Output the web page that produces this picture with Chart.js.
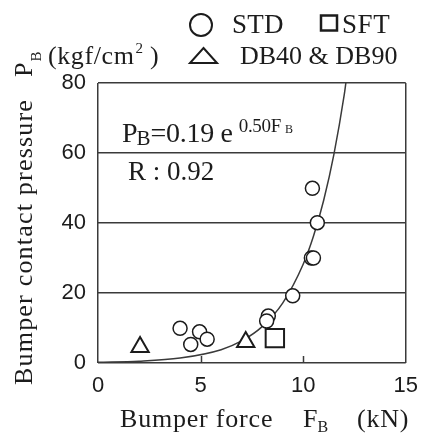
<!DOCTYPE html>
<html>
<head>
<meta charset="utf-8">
<script src="https://cdn.jsdelivr.net/npm/chart.js@4/dist/chart.umd.min.js"></script>
<style>
  html, body { margin: 0; padding: 0; background: #fff; }
</style>
</head>
<body>
<canvas id="chart" width="428" height="435"></canvas>
<script>
// measured points (F_B in kN, P_B in kgf/cm2)
var std_data = [
  {x: 4.0, y: 9.9}, {x: 4.95, y: 8.9}, {x: 5.32, y: 6.8}, {x: 4.52, y: 5.3},
  {x: 8.3, y: 13.4}, {x: 8.22, y: 12.0}, {x: 9.49, y: 19.2},
  {x: 10.4, y: 30.0}, {x: 10.5, y: 30.0}, {x: 10.69, y: 40.1}, {x: 10.45, y: 49.9}
];
var sft_data = [ {x: 8.62, y: 7.1} ];
var db_data = [ {x: 2.05, y: 4.6}, {x: 7.2, y: 6.0} ];

// fitted curve P = 0.19 e^(0.50 F)
var fit_x = [0, 2, 4, 6, 7, 8, 9, 10, 10.5, 11, 11.5, 12, 12.08];
var fit_y = [0.2, 0.5, 1.4, 3.8, 6.3, 10.4, 17.1, 28.2, 36.2, 46.5, 59.7, 76.6, 80];

var x_ticks = [0, 5, 10, 15];
var y_ticks = [0, 20, 40, 60, 80];

var fit_data = fit_x.map(function(v, i) { return {x: v, y: fit_y[i]}; });

var INK = '#1c1c1c';
var LINE = '#3a3a3a';
var SERIF = '"Liberation Serif", "DejaVu Serif", serif';

function txt(ctx, s, x, y, size, spacing) {
  ctx.font = size + 'px ' + SERIF;
  ctx.letterSpacing = (spacing || 0) + 'px';
  ctx.fillText(s, x, y);
  var w = ctx.measureText(s).width;
  ctx.letterSpacing = '0px';
  return x + w;
}

var textPlugin = {
  id: 'texts',
  afterDraw: function(chart) {
    var ctx = chart.ctx;
    var xs = chart.scales.x, a = chart.chartArea;
    ctx.save();
    // inward tick marks on the bottom axis
    ctx.strokeStyle = LINE;
    ctx.lineWidth = 1.5;
    x_ticks.slice(1, -1).forEach(function(v) {
      var px = Math.round(xs.getPixelForValue(v)) + 0.5;
      ctx.beginPath();
      ctx.moveTo(px, a.bottom);
      ctx.lineTo(px, a.bottom - 7);
      ctx.stroke();
    });

    ctx.fillStyle = INK;
    ctx.strokeStyle = INK;
    ctx.textBaseline = 'alphabetic';
    ctx.textAlign = 'left';

    // legend
    ctx.lineWidth = 2;
    ctx.beginPath(); ctx.arc(201, 25, 11, 0, Math.PI * 2); ctx.stroke();
    txt(ctx, 'STD', 232, 33, 27, 0.3);
    ctx.lineWidth = 2.5;
    ctx.strokeRect(321, 15.5, 16, 15);
    txt(ctx, 'SFT', 342, 33, 27, 0.6);
    ctx.lineWidth = 2;
    ctx.beginPath();
    ctx.moveTo(203.5, 48); ctx.lineTo(217, 63); ctx.lineTo(190, 63); ctx.closePath();
    ctx.stroke();
    txt(ctx, 'DB40 & DB90', 240, 64, 26, 0);

    // unit label
    var ux = txt(ctx, '(kgf/cm', 48, 64, 26, 0.6);
    ux = txt(ctx, '2', ux + 1, 53, 15, 0);
    txt(ctx, ' )', ux, 64, 26, 0.6);

    // formula and R
    var fx = txt(ctx, 'P', 122, 142, 28, 0);
    fx = txt(ctx, 'B', fx - 1, 145, 21, 0);
    fx = txt(ctx, '=0.19 e', fx, 142, 28, -0.3);
    fx = txt(ctx, '0.50F', fx + 6, 132, 19, -0.3);
    txt(ctx, 'B', fx + 4, 133, 12, 0);
    txt(ctx, 'R : 0.92', 128, 180, 27, 0);

    // x axis title
    var tx = txt(ctx, 'Bumper force', 120, 427, 26, 0.8);
    tx = txt(ctx, 'F', 303, 427, 26, 0);
    txt(ctx, 'B', tx, 432, 16, 0);
    txt(ctx, '(kN)', 357, 427, 26, 0.8);

    // y axis title, rotated
    ctx.translate(32, 385);
    ctx.rotate(-Math.PI / 2);
    var ty = txt(ctx, 'Bumper contact pressure', 0, 0, 26, 1.2);
    ty = txt(ctx, 'P', 308, 0, 26, 0);
    txt(ctx, 'B', ty + 1, 9, 15, 0);
    ctx.restore();
  }
};

new Chart(document.getElementById('chart'), {
  type: 'scatter',
  data: {
    datasets: [{
      label: 'STD',
      data: std_data,
      pointStyle: 'circle',
      pointRadius: 7,
      pointBorderWidth: 1.5,
      borderColor: INK,
      backgroundColor: '#fff'
    }, {
      label: 'SFT',
      data: sft_data,
      pointStyle: 'rect',
      pointRadius: 13,
      pointBorderWidth: 2,
      borderColor: INK,
      backgroundColor: '#fff'
    }, {
      label: 'DB40 & DB90',
      data: db_data,
      pointStyle: 'triangle',
      pointRadius: 10,
      pointBorderWidth: 2,
      borderColor: INK,
      backgroundColor: '#fff'
    }, {
      label: 'fit',
      type: 'line',
      data: fit_data,
      order: 10,
      showLine: true,
      pointRadius: 0,
      borderColor: LINE,
      borderWidth: 1.5,
      cubicInterpolationMode: 'monotone',
      fill: false
    }]
  },
  options: {
    responsive: false,
    animation: false,
    devicePixelRatio: 1,
    layout: { padding: { top: 83, right: 16, left: 0, bottom: 0 } },
    plugins: {
      legend: { display: false },
      tooltip: { enabled: false },
      title: { display: false }
    },
    scales: {
      x: {
        type: 'linear',
        min: 0, max: 15,
        afterFit: function(scale) { scale.height = 72; },
        afterBuildTicks: function(scale) { scale.ticks = x_ticks.map(function(v) { return {value: v}; }); },
        border: { display: false },
        grid: {
          drawTicks: false,
          lineWidth: 1.5,
          color: function(c) { return (c.tick && (c.tick.value === 0 || c.tick.value === 15)) ? LINE : 'rgba(0,0,0,0)'; }
        },
        ticks: {
          padding: 10,
          color: INK,
          font: { family: '"Liberation Sans", Arial, sans-serif', size: 22 }
        }
      },
      y: {
        type: 'linear',
        min: 0, max: 80,
        afterFit: function(scale) { scale.width = 98; },
        afterBuildTicks: function(scale) { scale.ticks = y_ticks.map(function(v) { return {value: v}; }); },
        border: { display: false },
        grid: { drawTicks: false, lineWidth: 1.5, color: LINE },
        ticks: {
          padding: 12,
          color: INK,
          font: { family: '"Liberation Sans", Arial, sans-serif', size: 22 }
        }
      }
    }
  },
  plugins: [textPlugin]
});
</script>
</body>
</html>
